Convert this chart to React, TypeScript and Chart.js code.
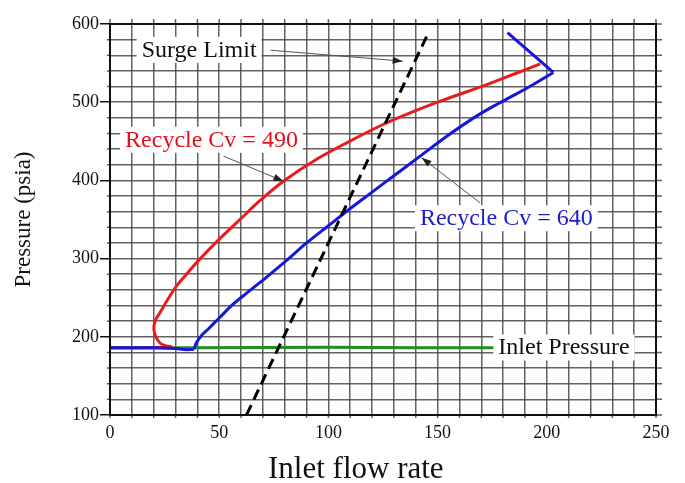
import React, { useEffect, useRef } from 'react';
import { Chart, registerables } from 'chart.js';

Chart.register(...registerables);

// ---- axis ranges / ticks ----
const xMin = 0;
const xMax = 250;
const xStep = 10;
const xLabelEvery = 50;
const yMin = 100;
const yMax = 600;
const yStep = 20;
const yLabelEvery = 100;

// ---- series (Inlet flow rate vs Pressure psia) ----
const cv490Flow = [0, 14, 28, 25, 22.9, 21, 20.1, 20.6, 22.9, 26.5, 30.5, 35, 41, 49, 59.5, 69, 79.4, 94.6, 109, 125, 138, 151, 163, 174, 186, 197];
const cv490Pressure = [186, 186, 187, 189, 192, 200, 209, 220, 231, 248, 265, 280, 299, 322, 350, 375, 399, 427, 449, 471.5, 487, 501, 513, 524, 537, 549];

// Cv = 640: flat segment, rising segment, return tail
const cv640Flow = [0, 20, 30, 35, 38.5, 39.5, 42, 45, 50, 56.5, 64, 72, 81, 90, 100, 110, 120, 130, 142, 155, 166, 175, 185, 194, 203, 182];
const cv640Pressure = [186, 186, 185, 183.5, 184, 192, 202, 210, 224, 242, 259, 277, 298, 320, 342, 364, 385, 406, 431, 458, 479, 494, 509, 523, 538, 589];

const inletFlow = [0, 40, 100, 140, 176];
const inletPressure = [186, 186, 186.5, 186, 186];

const surgeFlow = [62.5, 146];
const surgePressure = [100, 590];

// ---- text ----
const xTitle = 'Inlet flow rate';
const yTitle = 'Pressure (psia)';
const noteTexts = ['Surge Limit', 'Recycle Cv = 490', 'Recycle Cv = 640', 'Inlet Pressure'];
const noteColors = ['#111111', '#e3101a', '#1c1cd0', '#111111'];
// anchor of each note (data units: flow, pressure at text baseline-left)
const noteAnchorFlow = [14.5, 6.9, 141.9, 177.8];
const noteAnchorPressure = [558, 443, 342.7, 177.4];
// arrows (data units), null when none
const noteArrows: (number[] | null)[] = [
  [73.5, 566.5, 134, 552.5],
  [52, 431, 79.4, 399],
  [169.4, 371.4, 142.7, 429],
  null,
];

const SERIF = "'Liberation Serif', 'Times New Roman', serif";
const GRID = 'rgba(70,70,70,0.85)';

const zip = (xs: number[], ys: number[], from = 0, to = xs.length) =>
  xs.slice(from, to).map((x, i) => ({ x, y: ys[from + i] }));

const overlayPlugin = {
  id: 'overlay',
  beforeDatasetsDraw(chart: any) {
    const { ctx, chartArea: a, scales } = chart;
    const sx = scales.x;
    const sy = scales.y;
    ctx.save();
    ctx.strokeStyle = GRID;
    ctx.lineWidth = 1.5;
    ctx.beginPath();
    for (let v = xMin; v <= xMax; v += xStep) {
      const p = sx.getPixelForValue(v);
      ctx.moveTo(p, a.top - 5);
      ctx.lineTo(p, a.top);
      ctx.moveTo(p, a.bottom);
      ctx.lineTo(p, a.bottom + 3);
    }
    for (let v = yMin; v <= yMax; v += yStep) {
      const p = sy.getPixelForValue(v);
      ctx.moveTo(a.right, p);
      ctx.lineTo(a.right + 6, p);
      if (v % yLabelEvery !== 0) {
        ctx.moveTo(a.left - 3, p);
        ctx.lineTo(a.left, p);
      }
    }
    ctx.stroke();
    ctx.restore();
  },
  afterDraw(chart: any) {
    const { ctx, chartArea: a, scales } = chart;
    const sx = scales.x;
    const sy = scales.y;
    ctx.save();
    // frame
    ctx.strokeStyle = '#111';
    ctx.lineWidth = 2;
    ctx.strokeRect(a.left, a.top, a.right - a.left, a.bottom - a.top);

    // notes
    ctx.font = `24px ${SERIF}`;
    ctx.textBaseline = 'alphabetic';
    ctx.textAlign = 'left';
    noteTexts.forEach((t, i) => {
      const px = sx.getPixelForValue(noteAnchorFlow[i]);
      const py = sy.getPixelForValue(noteAnchorPressure[i]);
      const w = ctx.measureText(t).width;
      ctx.fillStyle = '#ffffff';
      ctx.fillRect(px - 5, py - 20, w + 10, 26);
      ctx.fillStyle = noteColors[i];
      ctx.fillText(t, px, py);
      const ar = noteArrows[i];
      if (ar) {
        const x1 = sx.getPixelForValue(ar[0]);
        const y1 = sy.getPixelForValue(ar[1]);
        const x2 = sx.getPixelForValue(ar[2]);
        const y2 = sy.getPixelForValue(ar[3]);
        ctx.strokeStyle = '#555';
        ctx.fillStyle = '#222';
        ctx.lineWidth = 1;
        ctx.beginPath();
        ctx.moveTo(x1, y1);
        ctx.lineTo(x2, y2);
        ctx.stroke();
        const ang = Math.atan2(y2 - y1, x2 - x1);
        const L = 10;
        const W = 3.5;
        const c = Math.cos(ang);
        const s = Math.sin(ang);
        ctx.beginPath();
        ctx.moveTo(x2, y2);
        ctx.lineTo(x2 - L * c + W * s, y2 - L * s - W * c);
        ctx.lineTo(x2 - L * c - W * s, y2 - L * s + W * c);
        ctx.closePath();
        ctx.fill();
      }
    });

    // axis titles
    ctx.fillStyle = '#111';
    ctx.font = `31px ${SERIF}`;
    ctx.textAlign = 'left';
    ctx.textBaseline = 'alphabetic';
    ctx.fillText(xTitle, 268, 478);

    ctx.font = `23px ${SERIF}`;
    ctx.textAlign = 'center';
    ctx.textBaseline = 'middle';
    ctx.translate(24, (a.top + a.bottom) / 2);
    ctx.rotate(-Math.PI / 2);
    ctx.fillText(yTitle, 0, 0);
    ctx.restore();
  },
};

const blueStyle = {
  borderColor: '#1616dc',
  borderWidth: 3,
  pointRadius: 0,
  fill: false,
};

export default function App() {
  const ref = useRef<HTMLCanvasElement>(null);
  useEffect(() => {
    if (!ref.current) return;
    const chart = new Chart(ref.current, {
      type: 'line',
      data: {
        datasets: [
          {
            label: 'Surge Limit',
            data: zip(surgeFlow, surgePressure),
            borderColor: '#000',
            borderWidth: 3,
            borderDash: [11, 6],
            pointRadius: 0,
            tension: 0,
            fill: false,
          },
          { label: 'Recycle Cv = 640', data: zip(cv640Flow, cv640Pressure, 0, 5), tension: 0, ...blueStyle },
          { label: 'Recycle Cv = 640 rise', data: zip(cv640Flow, cv640Pressure, 4, 25), tension: 0.35, ...blueStyle },
          { label: 'Recycle Cv = 640 tail', data: zip(cv640Flow, cv640Pressure, 24), tension: 0, ...blueStyle },
          {
            label: 'Recycle Cv = 490',
            data: zip(cv490Flow, cv490Pressure),
            borderColor: '#ec1a1a',
            borderWidth: 3,
            pointRadius: 0,
            tension: 0.35,
            fill: false,
          },
          {
            label: 'Inlet Pressure',
            data: zip(inletFlow, inletPressure),
            borderColor: '#1f8f1f',
            borderWidth: 3,
            pointRadius: 0,
            tension: 0,
            fill: false,
          },
        ],
      },
      options: {
        responsive: false,
        animation: false,
        devicePixelRatio: 1,
        layout: { padding: { top: 24, right: 29, left: 0, bottom: 0 } },
        plugins: { legend: { display: false }, tooltip: { enabled: false } },
        scales: {
          x: {
            type: 'linear',
            min: xMin,
            max: xMax,
            border: { display: false },
            grid: { color: GRID, lineWidth: 1.5, drawTicks: false },
            ticks: {
              stepSize: xStep,
              autoSkip: false,
              maxRotation: 0,
              padding: 7,
              color: '#111',
              font: { family: SERIF, size: 18 },
              callback: (v: any) => (Number(v) % xLabelEvery === 0 ? String(v) : ''),
            },
            afterFit: (s: any) => {
              s.height = 68;
              s.paddingLeft = 0;
              s.paddingRight = 0;
            },
          },
          y: {
            type: 'linear',
            min: yMin,
            max: yMax,
            border: { display: false },
            grid: {
              color: GRID,
              lineWidth: 1.5,
              drawTicks: true,
              tickLength: 10,
              tickWidth: 1.5,
              tickColor: (c: any) => (c.tick && c.tick.value % yLabelEvery === 0 ? '#111' : 'rgba(0,0,0,0)'),
            },
            ticks: {
              stepSize: yStep,
              autoSkip: false,
              padding: 1,
              color: '#111',
              font: { family: SERIF, size: 18 },
              callback: (v: any) => (Number(v) % yLabelEvery === 0 ? String(v) : ''),
            },
            afterFit: (s: any) => {
              s.width = 110;
              s.paddingTop = 0;
              s.paddingBottom = 0;
            },
          },
        },
      },
      plugins: [overlayPlugin],
    });
    return () => chart.destroy();
  }, []);
  return (
    <div style={{ position: 'fixed', left: 0, top: 0, width: 685, height: 483, background: '#fff' }}>
      <canvas ref={ref} width={685} height={483} style={{ width: 685, height: 483, display: 'block' }} />
    </div>
  );
}
